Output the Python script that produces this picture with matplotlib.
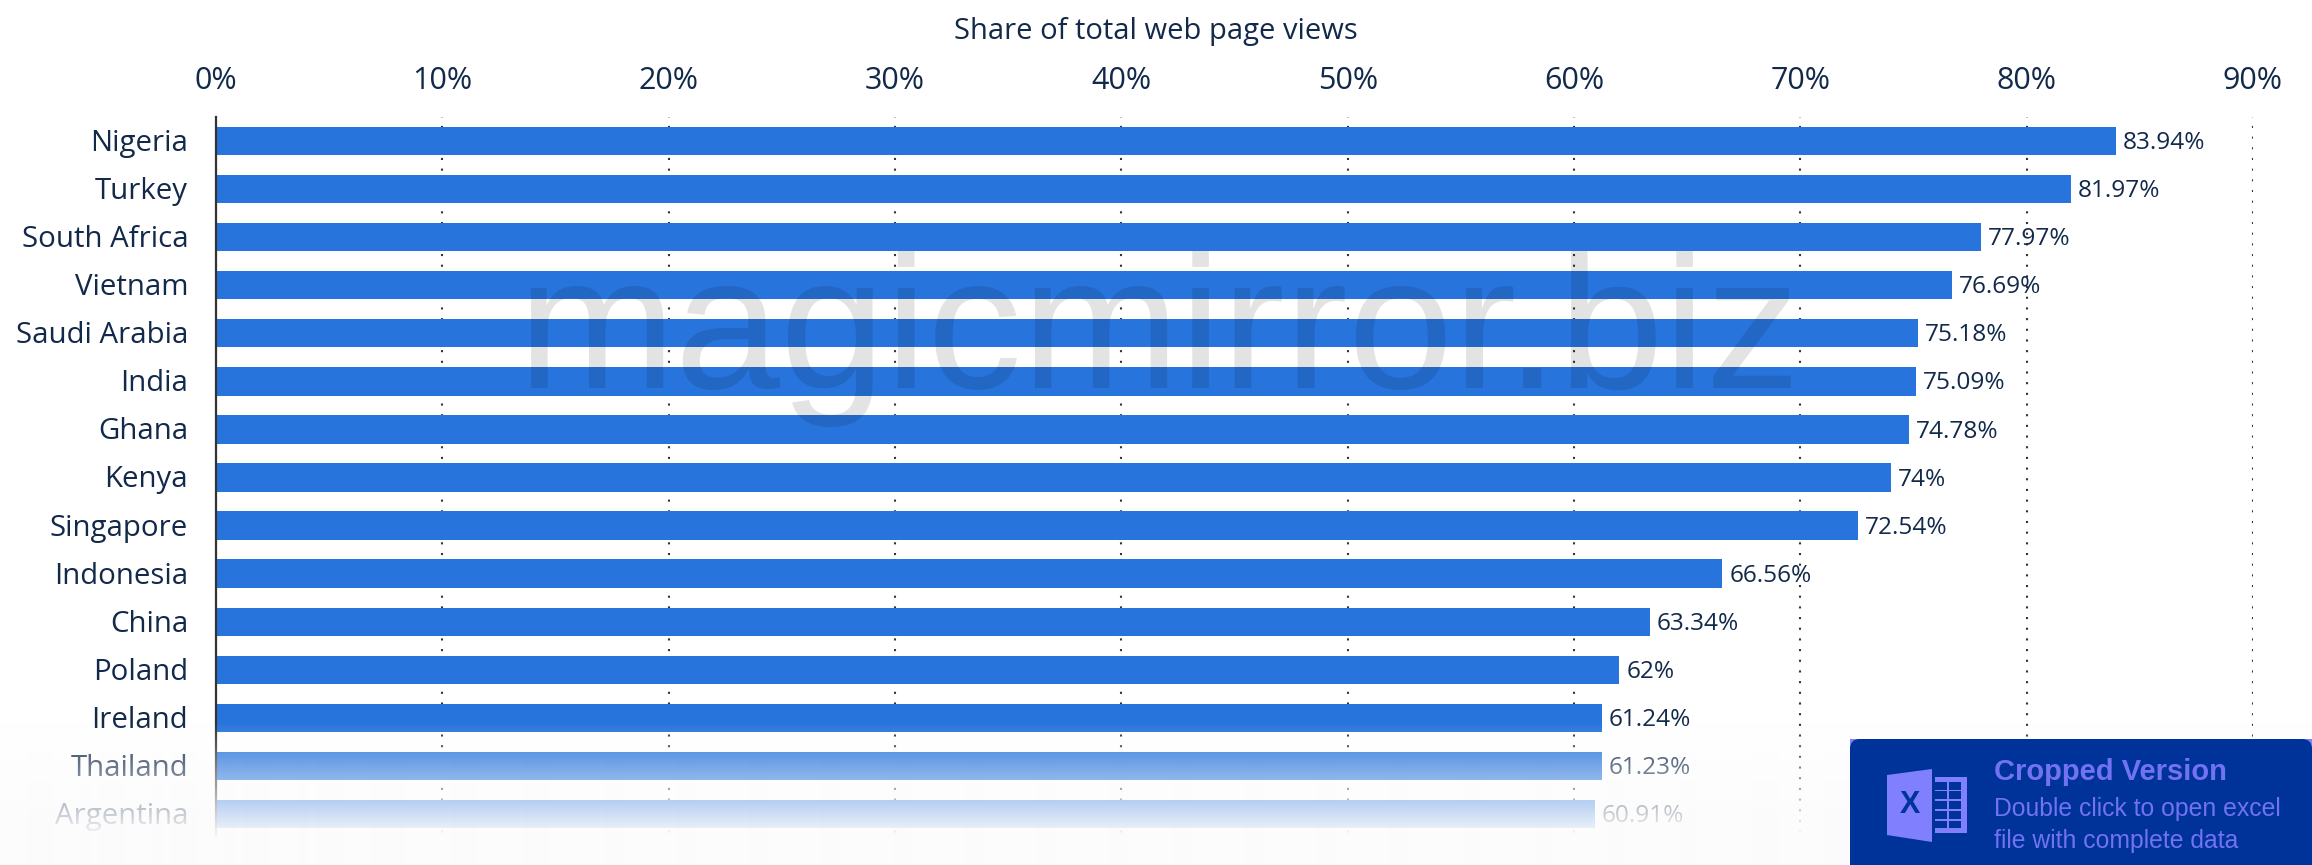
import matplotlib
matplotlib.use('Agg')
import matplotlib.pyplot as plt
import numpy as np
from matplotlib.patches import FancyBboxPatch, Polygon, Rectangle
from matplotlib.transforms import ScaledTranslation

plt.rcParams['font.family'] = ['Open Sans', 'DejaVu Sans']

countries = ['Nigeria', 'Turkey', 'South Africa', 'Vietnam', 'Saudi Arabia', 'India', 'Ghana', 'Kenya',
             'Singapore', 'Indonesia', 'China', 'Poland', 'Ireland', 'Thailand', 'Argentina']
shares = [83.94, 81.97, 77.97, 76.69, 75.18, 75.09, 74.78, 74, 72.54, 66.56, 63.34, 62, 61.24, 61.23, 60.91]
x_ticks = [0, 10, 20, 30, 40, 50, 60, 70, 80, 90]

W, H = 2312, 865
NAVY = '#12294a'
BLUE = '#2874dd'
BOX = '#003399'
LAVENDER = '#8080ff'
BOX_TEXT = '#7272f2'


def create_chart(outFile):
    fig = plt.figure(figsize=(W / 100, H / 100), dpi=100, facecolor='white')
    ax = fig.add_axes([216 / W, 1 - 838 / H, (2253 - 216) / W, (838 - 117) / H])
    y_pos = np.arange(len(countries))

    ax.barh(y_pos, shares, height=0.59, color=BLUE, zorder=3)
    for y, v in zip(y_pos, shares):
        ax.annotate('%g%%' % v, (v, y), xytext=(5, -1.5), textcoords='offset points', va='center',
                    fontsize=17.6, color=NAVY, zorder=4)

    ax.set_xlim(0, 90)
    ax.set_ylim(14.5, -0.5)
    ax.set_yticks(y_pos)
    ax.set_yticklabels(countries, fontsize=21.2, color=NAVY)
    ax.set_xticks(x_ticks)
    ax.set_xticklabels(['%d%%' % t for t in x_ticks], fontsize=22, color=NAVY)
    ax.xaxis.tick_top()
    ax.tick_params(axis='x', length=0, pad=15.3)
    ax.tick_params(axis='y', length=0, pad=20)
    up = ScaledTranslation(0, 1 / 100, fig.dpi_scale_trans)
    for label in ax.get_yticklabels():
        label.set_transform(label.get_transform() + up)
    ax.xaxis.grid(True, color='#333333', linewidth=1.5, linestyle=(2.56, (1, 4.125)), zorder=1)
    ax.set_axisbelow(True)
    for side in ['top', 'right', 'bottom']:
        ax.spines[side].set_visible(False)
    ax.spines['left'].set_linewidth(1.6)
    ax.spines['left'].set_color('#333333')
    ax.spines['left'].set_zorder(5)
    ax.patch.set_visible(False)

    # everything below is placed in pixels of the picture
    top = fig.add_axes([0, 0, 1, 1], zorder=10)
    top.set_xlim(0, W)
    top.set_ylim(H, 0)
    top.axis('off')
    top.text(1155.5, 31, 'Share of total web page views', ha='center', va='center', fontsize=21, color=NAVY)
    top.text(517, 388, 'magicmirror.biz', family='Liberation Sans', fontsize=136.3, color='black',
             alpha=0.11, va='baseline')

    # fade at the bottom
    rows = np.arange(H)
    fade = np.ones((H, 1, 4))
    fade[:, :, :3] = 0xfc / 255
    fade[:, 0, 3] = np.clip((rows - 722) / (838 - 722), 0, 1)
    top.imshow(fade, extent=(0, W, H, 0), aspect='auto', interpolation='bilinear', zorder=2)
    top.set_xlim(0, W)
    top.set_ylim(H, 0)

    # cropped version box
    top.add_patch(Rectangle((1850, 739), W - 1850, H - 739, color=LAVENDER, lw=0, zorder=3))
    top.add_patch(FancyBboxPatch((1860, 749), W - 1870, H - 739, boxstyle='round,pad=10,rounding_size=10',
                                 fc=BOX, ec='none', zorder=4))
    # excel icon
    top.add_patch(Polygon([(1887, 775), (1932, 769), (1932, 842), (1887, 835)], fc=LAVENDER, ec='none', zorder=5))
    top.add_patch(Rectangle((1935, 777), 32, 56, fc=LAVENDER, ec='none', zorder=5))
    for cell_y in [782, 791.3, 801.3, 811.3, 820.7]:
        top.add_patch(Rectangle((1935, cell_y), 11.7, 7.5, fc=BOX, ec='none', zorder=6))
        top.add_patch(Rectangle((1949, cell_y), 12, 7.5, fc=BOX, ec='none', zorder=6))
    top.text(1910, 805, 'X', family='Liberation Sans', weight='bold', fontsize=22, color=BOX,
             ha='center', va='center', zorder=6)
    top.text(1994, 780, 'Cropped Version', family='Liberation Sans', weight='bold', fontsize=21, color=BOX_TEXT,
             va='baseline', zorder=6)
    top.text(1994, 816, 'Double click to open excel', family='Liberation Sans', fontsize=17.8, color=BOX_TEXT,
             va='baseline', zorder=6)
    top.text(1994, 848, 'file with complete data', family='Liberation Sans', fontsize=17.8, color=BOX_TEXT,
             va='baseline', zorder=6)

    plt.savefig(outFile, dpi=100)


if __name__ == '__main__':
    create_chart('out.png')
